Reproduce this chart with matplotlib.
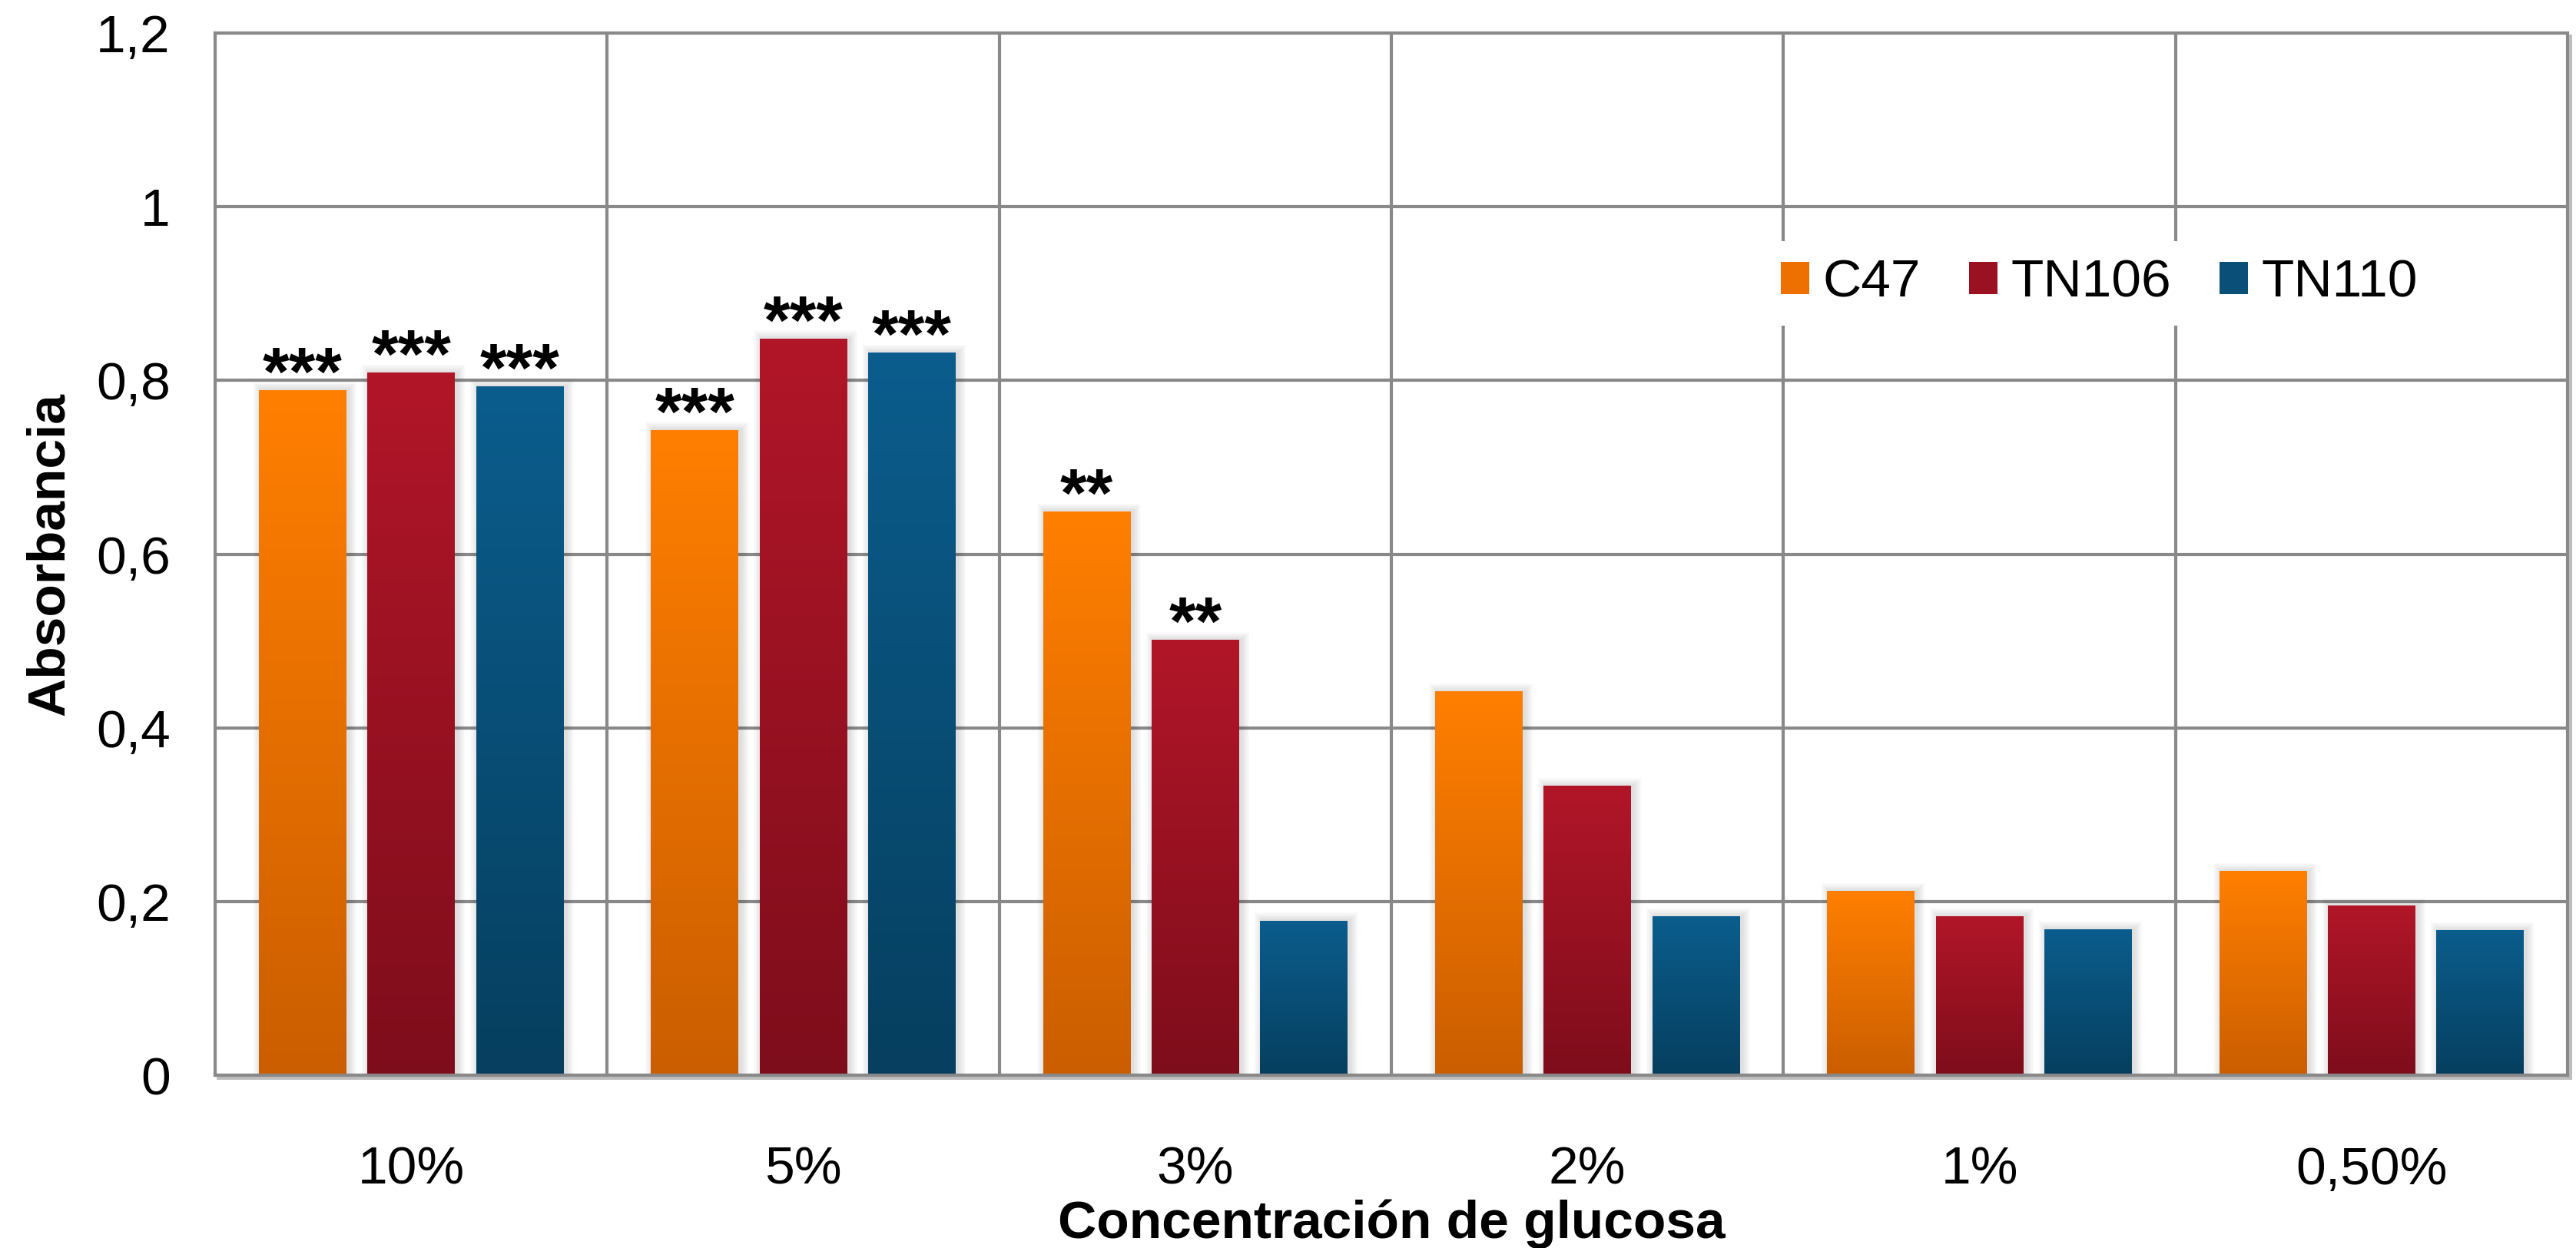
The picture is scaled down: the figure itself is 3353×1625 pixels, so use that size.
import numpy as np
import matplotlib
matplotlib.use("Agg")
import matplotlib.pyplot as plt
from matplotlib.patches import Rectangle, Patch
from matplotlib.colors import LinearSegmentedColormap
from matplotlib.lines import Line2D

plt.rcParams['font.family'] = ['Liberation Sans', 'DejaVu Sans']

categories = ["10%", "5%", "3%", "2%", "1%", "0,50%"]
series_names = ["C47", "TN106", "TN110"]
c47 = [0.789, 0.743, 0.649, 0.442, 0.212, 0.235]
tn106 = [0.809, 0.848, 0.501, 0.333, 0.183, 0.195]
tn110 = [0.793, 0.832, 0.178, 0.183, 0.168, 0.167]
stars_c47 = ["***", "***", "**", "", "", ""]
stars_tn106 = ["***", "***", "**", "", "", ""]
stars_tn110 = ["***", "***", "", "", "", ""]
y_ticks = [0, 0.2, 0.4, 0.6, 0.8, 1.0, 1.2]
y_tick_labels = ["0", "0,2", "0,4", "0,6", "0,8", "1", "1,2"]

series = [c47, tn106, tn110]
stars = [stars_c47, stars_tn106, stars_tn110]
# (top, bottom) colours of each series' vertical gradient
grad = [("#FF7F00", "#CB5E00"), ("#B11628", "#7E0D1B"), ("#0B5D8D", "#063F5F")]
mid = ["#EE7100", "#9A1222", "#0A4F78"]

W, H, DPI = 3353, 1625, 200
fig = plt.figure(figsize=(W / DPI, H / DPI), dpi=DPI)
left, right, top, bottom = 280, 3342, 43, 1400
ax = fig.add_axes([left / W, 1 - bottom / H, (right - left) / W, (bottom - top) / H])

grid_col = "#898989"
lw = 1.5
ax.set_xlim(-0.5, len(categories) - 0.5)
ax.set_ylim(0, 1.2)
px_x = len(categories) / (right - left)
px_y = 1.2 / (bottom - top)

x = np.arange(len(categories))
width = 0.223
step = 0.277

for i, (vals, (ctop, cbot)) in enumerate(zip(series, grad)):
    xs = x + (i - 1) * step
    bars = ax.bar(xs, vals, width=width, color=mid[i], zorder=3, label=series_names[i])
    cmap = LinearSegmentedColormap.from_list(f"g{i}", [cbot, ctop])
    for b, v in zip(bars, vals):
        x0 = b.get_x()
        # soft grey drop shadow
        for k in range(1, 9):
            d = k * 2.2
            ax.add_patch(Rectangle((x0 - d * px_x * 0.6 + 3 * px_x, -d * px_y),
                                   width + 2 * d * px_x * 0.6,
                                   v + d * px_y * 1.6,
                                   facecolor="#404040", alpha=0.02, lw=0, zorder=2.5))
        im = ax.imshow(np.linspace(0, 1, 256).reshape(-1, 1), cmap=cmap, origin="lower",
                       extent=[x0, x0 + width, 0, v], aspect="auto", zorder=3.2,
                       interpolation="bilinear")
        im.set_clip_path(b)
    for xx, v, s in zip(xs, vals, stars[i]):
        if s:
            ax.annotate(s, (xx, v), xytext=(0, -2), textcoords="offset points",
                        ha="center", va="baseline", fontsize=32, fontweight="bold",
                        zorder=5)

ax.set_xlim(-0.5, len(categories) - 0.5)
ax.set_ylim(0, 1.2)

ax.set_yticks(y_ticks)
ax.set_yticklabels(y_tick_labels)
ax.set_xticks(x)
ax.set_xticklabels(categories)
ax.set_xticks(np.arange(0.5, len(categories) - 0.5, 1), minor=True)
ax.tick_params(axis="both", which="both", length=0, labelsize=25)
ax.tick_params(axis="y", pad=21)
ax.tick_params(axis="x", pad=33)
ax.grid(axis="y", which="major", color=grid_col, lw=lw, zorder=1)
ax.grid(axis="x", which="minor", color=grid_col, lw=lw, zorder=1)
ax.grid(axis="x", which="major", visible=False)
ax.set_axisbelow(True)
for sp in ax.spines.values():
    sp.set_color(grid_col)
    sp.set_linewidth(lw)
    sp.set_zorder(4)

# light shadow under the bottom edge and beside the right edge of the plot area
sx, sy = 4 / (right - left), 4 / (bottom - top)
ax.add_line(Line2D([sx, 1 + sx], [-sy, -sy], transform=ax.transAxes, color="#BDBDBD",
                   lw=1.4, clip_on=False, zorder=3.9))
ax.add_line(Line2D([1 + sx, 1 + sx], [-sy, 1 - sy], transform=ax.transAxes, color="#BDBDBD",
                   lw=1.4, clip_on=False, zorder=3.9))

ax.set_ylabel("Absorbancia", fontsize=25, fontweight="bold", labelpad=10)
ax.set_xlabel("Concentración de glucosa", fontsize=25, fontweight="bold", labelpad=2)

handles = [Patch(facecolor=mid[i], edgecolor="none") for i in range(3)]
leg = ax.legend(handles, series_names, loc="center left", bbox_to_anchor=(0.658, 0.760),
                ncol=3, frameon=True, fontsize=25, handlelength=0.54, handleheight=0.55,
                handletextpad=0.25, columnspacing=0.9, borderpad=0.33, borderaxespad=0,
                fancybox=False)
leg.get_frame().set_edgecolor("none")
leg.get_frame().set_facecolor("white")
leg.get_frame().set_alpha(1)
leg.set_zorder(6)

fig.savefig("out.png", dpi=DPI, facecolor="white")
